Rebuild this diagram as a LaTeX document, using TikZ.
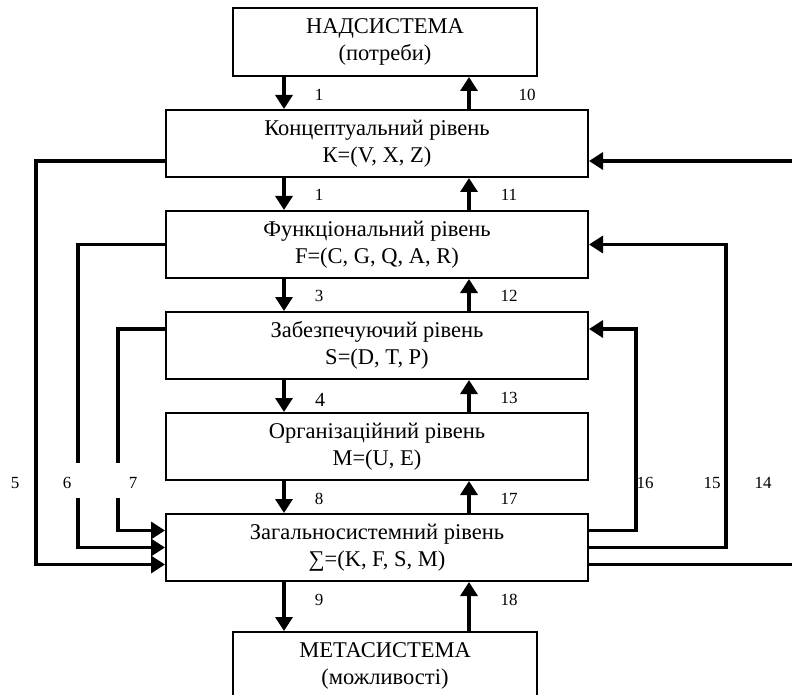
\documentclass[tikz,border=0pt]{standalone}
\usepackage{fontspec}
\setmainfont{Liberation Serif}
\usetikzlibrary{
  positioning,
  arrows.meta
}
\tikzset{
  node distance=32pt,
  level/.style={draw, line width=2pt, minimum width=422pt, minimum height=67pt,
    inner sep=0pt, align=center, font=\fontsize{22.5}{27}\selectfont},
  outer/.style={level, minimum width=304pt, minimum height=68pt},
  link/.style={line width=3.3pt},
  flow/.style={link, -{Triangle[length=14pt,width=17pt]}},
  num/.style={inner sep=0pt, font=\fontsize{17}{17}\selectfont}
}

\begin{document}
\begin{tikzpicture}[x=1pt, y=-1pt]
    \useasboundingbox (0,0) rectangle (792,695);
    \clip (0,0) rectangle (792,695);
    % levels
    \node[level] (K) at (377,143.5) {Концептуальний рівень\\К=(V, X, Z)};
    \node[level, below=of K] (F) {Функціональний рівень\\F=(C, G, Q, A, R)};
    \node[level, below=of F] (S) {Забезпечуючий рівень\\S=(D, T, P)};
    \node[level, below=of S] (M) {Організаційний рівень\\M=(U, E)};
    \node[level, below=of M] (sum) {Загальносистемний рівень\\∑=(K, F, S, M)};
    \node[outer, above=of K, xshift=8pt] (nad) {НАДСИСТЕМА\\(потреби)};
    \node[outer, below=49pt of sum, xshift=8pt] (meta) {МЕТАСИСТЕМА\\(можливості)};
    % vertical flows
    \coordinate (dn) at (284,0);
    \coordinate (up) at (469,0);
    \foreach \a/\b in {nad/K, K/F, F/S, S/M, M/sum, sum/meta} {
      \draw[flow] (\a.south -| dn) -- (\b.north -| dn);
      \draw[flow] (\b.north -| up) -- (\a.south -| up);
    }
    \foreach \t/\y in {1/95, 1/195, 3/296, 8/499, 9/600}
      \node[num] (dl\y) at (319,\y) {\t};
    \node[num, font=\fontsize{20}{20}\selectfont] (dl400) at (320,400) {4};
    \foreach \t/\x/\y in {10/527/95, 11/509/195, 12/509/296, 13/509/398, 17/509/499, 18/509/600}
      \node[num] (ul\t) at (\x,\y) {\t};
    % left feedback
    \coordinate (g6a) at (78,463);
    \coordinate (g6b) at (78,498);
    \coordinate (g7a) at (118,463);
    \coordinate (g7b) at (118,498);
    \draw[flow] ([yshift=-17.5pt]K.west) -- ++(-129,0) |- ([yshift=-17pt]sum.west);
    \draw[link] (F.west) -| (g6a);
    \draw[flow] (g6b) |- (sum.west);
    \draw[link] ([yshift=16.5pt]S.west) -| (g7a);
    \draw[flow] (g7b) |- ([yshift=17pt]sum.west);
    % right feedback
    \draw[flow] ([yshift=17pt]sum.east) -- ++(47,0) |- ([yshift=16.5pt]S.east);
    \draw[flow] (sum.east) -- ++(137,0) |- (F.east);
    \draw[flow] ([yshift=-17pt]sum.east) -- ++(207,0) |- ([yshift=-17.5pt]K.east);
    \foreach \t/\x in {5/15, 6/67, 7/133, 16/645, 15/712, 14/763}
      \node[num] (sl\t) at (\x,483) {\t};
\end{tikzpicture}
\end{document}
